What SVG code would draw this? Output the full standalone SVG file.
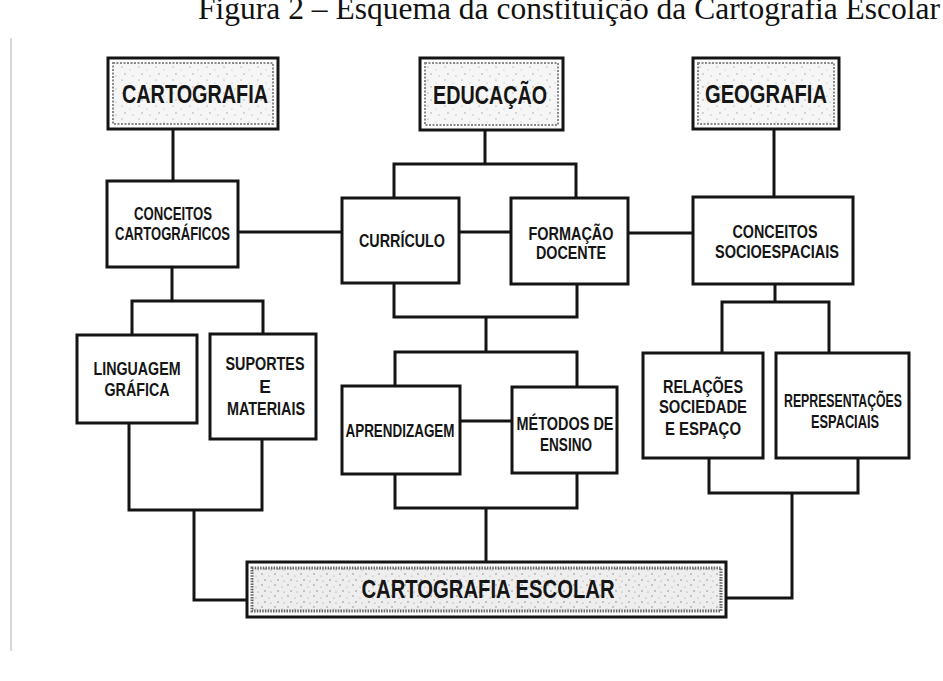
<svg xmlns="http://www.w3.org/2000/svg" width="943" height="681" viewBox="0 0 943 681">
<style>
.box{fill:#fff;stroke:#141414;stroke-width:3}
.ln{fill:none;stroke:#141414;stroke-width:3;stroke-linejoin:miter;stroke-linecap:square}
.lbl{font-family:"Liberation Sans",Arial,sans-serif;font-weight:bold;font-size:17.5px;fill:#151515;text-anchor:middle}
.big{font-size:25px}
.tex{fill:url(#spk);stroke:#8a8a8a;stroke-width:2;stroke-dasharray:2 1.5}
.texd{fill:url(#spk2);stroke:#666;stroke-width:3;stroke-dasharray:1.5 1.2}
.title{font-family:"Liberation Serif","Times New Roman",serif;font-size:31.5px;fill:#111}
</style>
<defs>
<pattern id="spk" width="17" height="13" patternUnits="userSpaceOnUse">
<rect width="17" height="13" fill="#f6f6f6"/>
<circle cx="3" cy="2" r="0.6" fill="#888"/>
<circle cx="11" cy="5" r="0.5" fill="#aaa"/>
<circle cx="6" cy="9" r="0.7" fill="#999"/>
<circle cx="14" cy="11" r="0.5" fill="#888"/>
</pattern>
<pattern id="spk2" width="13" height="11" patternUnits="userSpaceOnUse">
<rect width="13" height="11" fill="#eeeeee"/>
<circle cx="2" cy="2" r="0.7" fill="#777"/>
<circle cx="9" cy="4" r="0.6" fill="#999"/>
<circle cx="5" cy="8" r="0.8" fill="#888"/>
<circle cx="11" cy="9" r="0.5" fill="#777"/>
</pattern>
</defs>
<rect width="943" height="681" fill="#fff"/>
<line x1="11" y1="38" x2="11" y2="651" stroke="#b0b0b0" stroke-width="1"/>
<text class="title" x="198" y="19" textLength="742" lengthAdjust="spacingAndGlyphs">Figura 2 – Esquema da constituição da Cartografia Escolar</text>

<g id="connectors">
<path class="ln" d="M173 129 V181"/>
<path class="ln" d="M238 232 H342"/>
<path class="ln" d="M485 130 V164 M394 198 V164 H576 V198"/>
<path class="ln" d="M459 232 H511"/>
<path class="ln" d="M628 233 H693"/>
<path class="ln" d="M774 129 V197"/>
<path class="ln" d="M172 267 V301 M132 335 V301 H263 V334"/>
<path class="ln" d="M394 283 V317 H577 V284 M486 317 V352 M395 386 V352 H577 V387"/>
<path class="ln" d="M460 421 H512"/>
<path class="ln" d="M395 474 V508 H577 V473 M486 508 V562"/>
<path class="ln" d="M775 284 V302 M722 353 V302 H829 V353"/>
<path class="ln" d="M709 458 V493 H858 V458 M792 493 V598 H726"/>
<path class="ln" d="M129 423 V510 H262 V439 M194 510 V600 H247"/>
</g>

<g id="cartografia">
<rect class="box" x="108" y="58" width="170" height="71"/>
<rect class="tex" x="113" y="63" width="160" height="61"/>
<text class="lbl big" x="195" y="103" textLength="146" lengthAdjust="spacingAndGlyphs">CARTOGRAFIA</text>
</g>
<g id="educacao">
<rect class="box" x="420" y="58" width="143" height="72"/>
<rect class="tex" x="425" y="63" width="133" height="62"/>
<text class="lbl big" x="490" y="104" textLength="114" lengthAdjust="spacingAndGlyphs">EDUCAÇÃO</text>
</g>
<g id="geografia">
<rect class="box" x="693" y="58" width="146" height="71"/>
<rect class="tex" x="698" y="63" width="136" height="61"/>
<text class="lbl big" x="766" y="103" textLength="122" lengthAdjust="spacingAndGlyphs">GEOGRAFIA</text>
</g>

<g id="conceitos-cartograficos">
<rect class="box" x="107" y="181" width="131" height="86"/>
<text class="lbl" x="173" y="220" textLength="78" lengthAdjust="spacingAndGlyphs">CONCEITOS</text>
<text class="lbl" x="172.5" y="240" textLength="115" lengthAdjust="spacingAndGlyphs">CARTOGRÁFICOS</text>
</g>
<g id="curriculo">
<rect class="box" x="342" y="198" width="117" height="85"/>
<text class="lbl" x="402" y="247" textLength="86" lengthAdjust="spacingAndGlyphs">CURRÍCULO</text>
</g>
<g id="formacao-docente">
<rect class="box" x="511" y="198" width="117" height="86"/>
<text class="lbl" x="571" y="240" textLength="85" lengthAdjust="spacingAndGlyphs">FORMAÇÃO</text>
<text class="lbl" x="571" y="259" textLength="70" lengthAdjust="spacingAndGlyphs">DOCENTE</text>
</g>
<g id="conceitos-socioespaciais">
<rect class="box" x="693" y="197" width="160" height="87"/>
<text class="lbl" x="775" y="238" textLength="85" lengthAdjust="spacingAndGlyphs">CONCEITOS</text>
<text class="lbl" x="777" y="258" textLength="124" lengthAdjust="spacingAndGlyphs">SOCIOESPACIAIS</text>
</g>

<g id="linguagem-grafica">
<rect class="box" x="77" y="335" width="120" height="88"/>
<text class="lbl" x="137" y="375" textLength="87" lengthAdjust="spacingAndGlyphs">LINGUAGEM</text>
<text class="lbl" x="137" y="396" textLength="65" lengthAdjust="spacingAndGlyphs">GRÁFICA</text>
</g>
<g id="suportes-materiais">
<rect class="box" x="210" y="334" width="106" height="105"/>
<text class="lbl" x="265" y="370" textLength="79" lengthAdjust="spacingAndGlyphs">SUPORTES</text>
<text class="lbl" x="265" y="393">E</text>
<text class="lbl" x="266" y="415" textLength="78" lengthAdjust="spacingAndGlyphs">MATERIAIS</text>
</g>
<g id="aprendizagem">
<rect class="box" x="342" y="386" width="118" height="88"/>
<text class="lbl" x="400" y="437" textLength="109" lengthAdjust="spacingAndGlyphs">APRENDIZAGEM</text>
</g>
<g id="metodos-ensino">
<rect class="box" x="512" y="387" width="105" height="86"/>
<text class="lbl" x="565" y="430" textLength="97" lengthAdjust="spacingAndGlyphs">MÉTODOS DE</text>
<text class="lbl" x="566" y="451" textLength="52" lengthAdjust="spacingAndGlyphs">ENSINO</text>
</g>
<g id="relacoes">
<rect class="box" x="643" y="353" width="120" height="105"/>
<text class="lbl" x="703" y="393" textLength="80" lengthAdjust="spacingAndGlyphs">RELAÇÕES</text>
<text class="lbl" x="703" y="413" textLength="88" lengthAdjust="spacingAndGlyphs">SOCIEDADE</text>
<text class="lbl" x="703" y="435" textLength="76" lengthAdjust="spacingAndGlyphs">E ESPAÇO</text>
</g>
<g id="representacoes">
<rect class="box" x="776" y="353" width="133" height="105"/>
<text class="lbl" x="843" y="407" textLength="118" lengthAdjust="spacingAndGlyphs">REPRESENTAÇÕES</text>
<text class="lbl" x="845" y="428" textLength="68" lengthAdjust="spacingAndGlyphs">ESPACIAIS</text>
</g>

<g id="cartografia-escolar">
<rect class="box" x="247" y="562" width="479" height="55"/>
<rect class="texd" x="252" y="568" width="469" height="43"/>
<text class="lbl big" x="488" y="598" textLength="253" lengthAdjust="spacingAndGlyphs">CARTOGRAFIA ESCOLAR</text>
</g>
</svg>
